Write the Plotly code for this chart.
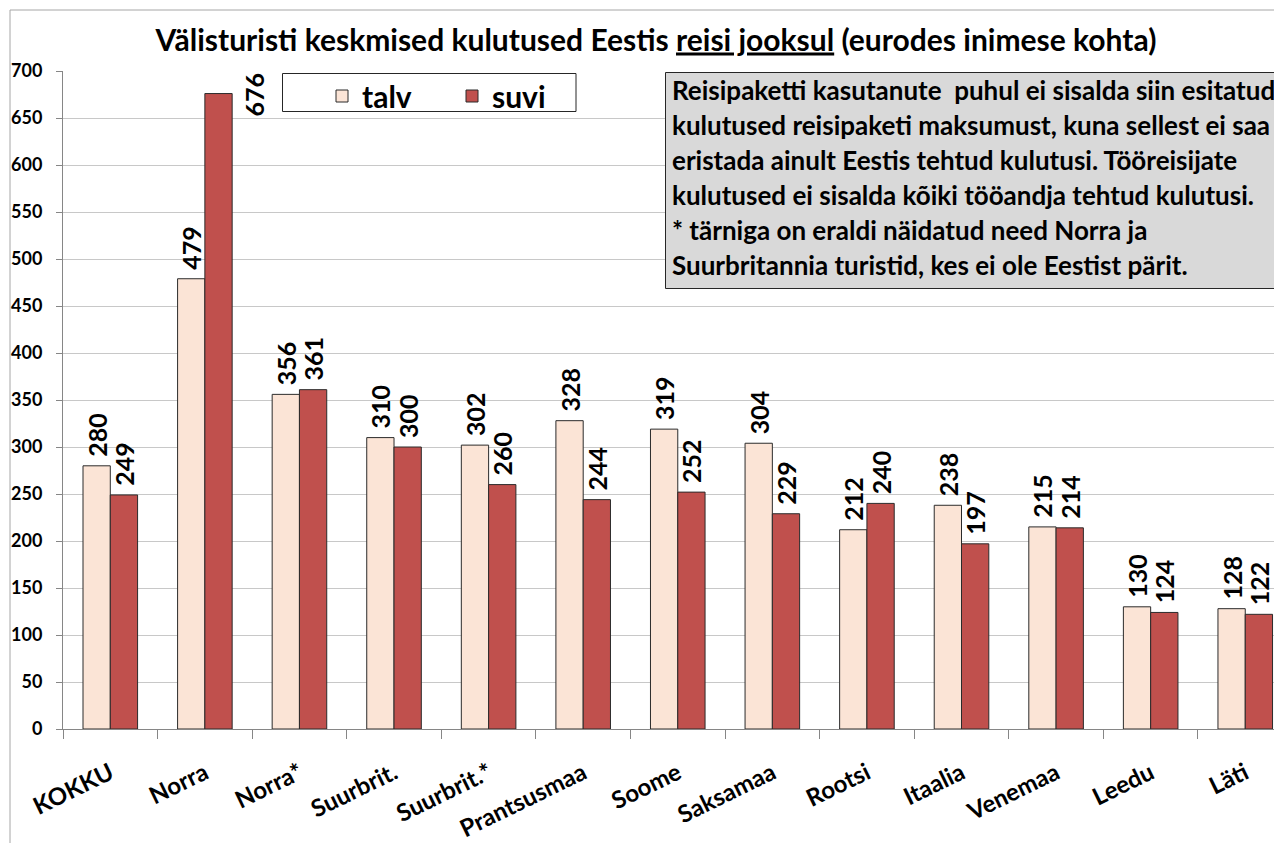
import plotly.graph_objects as go

# ---------------- data ----------------
categories = ["KOKKU", "Norra", "Norra*", "Suurbrit.", "Suurbrit.*", "Prantsusmaa",
              "Soome", "Saksamaa", "Rootsi", "Itaalia", "Venemaa", "Leedu", "Läti"]
talv = [280, 479, 356, 310, 302, 328, 319, 304, 212, 238, 215, 130, 128]
suvi = [249, 676, 361, 300, 260, 244, 252, 229, 240, 197, 214, 124, 122]
series_names = ["talv", "suvi"]
y_ticks = list(range(0, 701, 50))
title_text = "Välisturisti keskmised kulutused Eestis <u>reisi jooksul</u> (eurodes inimese kohta)"
note_lines = [
    "Reisipaketti kasutanute  puhul ei sisalda siin esitatud",
    "kulutused reisipaketi maksumust, kuna sellest ei saa",
    "eristada ainult Eestis tehtud kulutusi. Tööreisijate",
    "kulutused ei sisalda kõiki tööandja tehtud kulutusi.",
    "* tärniga on eraldi näidatud need Norra ja",
    "Suurbritannia turistid, kes ei ole Eestist pärit.",
]

# ---------------- layout geometry ----------------
OFF = 8                      # page body margin of the html page
W, H = 1282 - OFF, 843 - OFF
PL, PR, PT, PB = 63 - OFF, 0, 71 - OFF, H - (729 - OFF)
pw, ph = W - PL - PR, H - PT - PB
cat_px = 94.58

def px_x(x):   # page px -> paper
    return (x - OFF - PL) / pw

def px_y(y):   # page px -> paper
    return (H - PB - (y - OFF)) / ph

FONT = "Lato"
C_TALV = "#fbe4d6"
C_SUVI = "#c0504d"
BOLD = dict(family=FONT, color="black", weight="bold")

fig = go.Figure()

top_idx = suvi.index(max(suvi))
talv_text = ["\u00a0" + str(v) for v in talv]
suvi_text = ["\u00a0" + str(v) if i != top_idx else "" for i, v in enumerate(suvi)]

for name, vals, txt, col in [(series_names[0], talv, talv_text, C_TALV),
                             (series_names[1], suvi, suvi_text, C_SUVI)]:
    fig.add_trace(go.Bar(
        name=name, x=categories, y=vals, text=txt,
        marker=dict(color=col, line=dict(color="#2b2b2b", width=1)),
        textposition="outside", textangle=-90, constraintext="none", cliponaxis=False,
        textfont=dict(size=25, **BOLD),
    ))

annotations = [dict(
    x=categories[top_idx], y=suvi[top_idx], xref="x", yref="y",
    text=str(suvi[top_idx]), showarrow=False, textangle=-90,
    xanchor="center", yanchor="middle", xshift=49, yshift=-1,
    font=dict(size=25, **BOLD),
)]

base0, step = 98, 35
for i, line in enumerate(note_lines):
    annotations.append(dict(
        x=px_x(670), y=px_y(base0 + step * i - 8), xref="paper", yref="paper",
        text=line, showarrow=False, xanchor="left", yanchor="middle",
        font=dict(size=26, **BOLD),
    ))

shapes = [
    dict(type="rect", xref="paper", yref="paper",
         x0=px_x(10), x1=px_x(1300), y0=px_y(900), y1=px_y(10),
         line=dict(color="#a6a6a6", width=1), fillcolor="rgba(0,0,0,0)", layer="below"),
    dict(type="rect", xref="paper", yref="paper",
         x0=px_x(665.5), x1=px_x(1300), y0=px_y(288.5), y1=px_y(72.5),
         line=dict(color="#262626", width=1), fillcolor="#d9d9d9", layer="above"),
    dict(type="rect", xref="paper", yref="paper",
         x0=px_x(282.5), x1=px_x(576), y0=px_y(111.5), y1=px_y(73.5),
         line=dict(color="#262626", width=1), fillcolor="white", layer="above"),
]

fig.update_layout(
    width=W, height=H,
    margin=dict(l=PL, r=PR, t=PT, b=PB, autoexpand=False),
    paper_bgcolor="white", plot_bgcolor="white",
    barmode="group", bargap=0.423, bargroupgap=0,
    title=dict(text="<b>" + title_text + "</b>", x=(656 - OFF) / W, xref="container",
               xanchor="center", y=1 - (40 - OFF) / H, yref="container", yanchor="middle",
               font=dict(family=FONT, size=30, color="black")),
    showlegend=True,
    legend=dict(orientation="h", x=px_x(322), y=px_y(70), xanchor="left", yanchor="top",
                bgcolor="rgba(0,0,0,0)", borderwidth=0, entrywidth=85, entrywidthmode="pixels",
                font=dict(size=30, **BOLD), traceorder="normal"),
    xaxis=dict(
        type="category", range=[-0.5, -0.5 + pw / cat_px],
        showgrid=False, zeroline=False, showline=True, linecolor="#868686", linewidth=1,
        ticks="outside", tickson="boundaries", ticklen=9, tickcolor="#868686",
        tickangle=-26, ticklabelstandoff=20, tickfont=dict(size=24, **BOLD),
    ),
    yaxis=dict(
        range=[0, 700], tickvals=y_ticks, showgrid=True, gridcolor="#c8c8c8", gridwidth=1,
        zeroline=False, showline=True, linecolor="#868686", linewidth=1,
        ticks="outside", ticklen=6, tickcolor="#868686", ticklabelstandoff=10,
        tickfont=dict(size=18, **BOLD),
    ),
    shapes=shapes,
    annotations=annotations,
)

fig.write_html("out.html")
